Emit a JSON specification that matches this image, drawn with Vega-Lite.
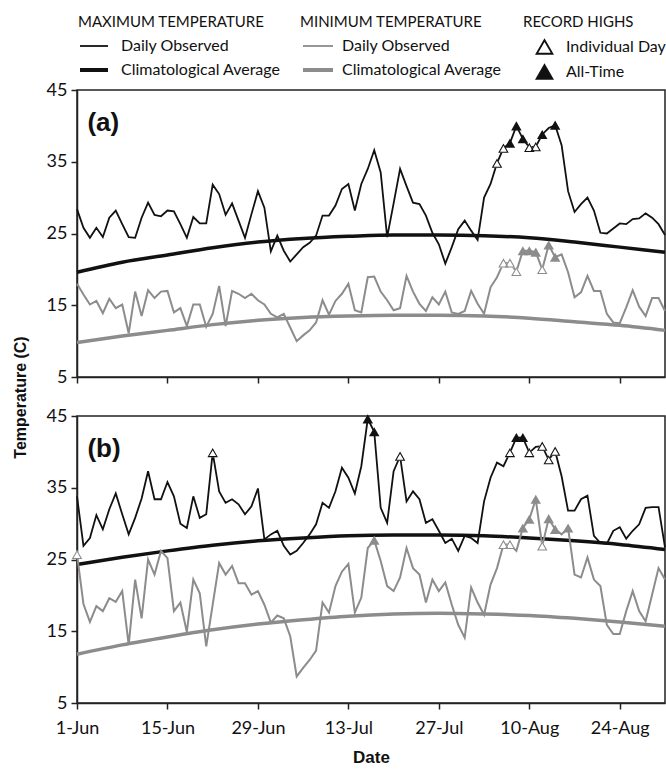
{
  "$schema": "https://vega.github.io/schema/vega-lite/v6.json",
  "background": "white",
  "padding": {"left": 11, "top": 15, "right": 0, "bottom": 5},
  "bounds": "flush",
  "spacing": 39,
  "config": {
    "view": {"stroke": "#222222", "strokeWidth": 1.5},
    "axis": {
      "grid": false,
      "labelFont": "Lato", "labelFontSize": 18, "labelColor": "#111111",
      "titleFont": "Liberation Sans", "titleFontWeight": "bold", "titleFontSize": 16, "titleColor": "#111111",
      "domainColor": "#222222", "domainWidth": 1.5,
      "tickColor": "#222222", "tickWidth": 1.5, "tickSize": 6, "labelPadding": 5
    },
    "legend": {
      "orient": "none", "direction": "vertical", "padding": 0,
      "labelFont": "Lato", "labelFontSize": 16, "labelColor": "#111111",
      "titleFont": "Lato", "titleFontSize": 15, "titleFontWeight": "normal", "titleColor": "#111111",
      "rowPadding": 8, "titlePadding": 8, "labelLimit": 300, "titleLimit": 400
    }
  },
  "datasets": {
    "obsA": [
      {"date":"2011-06-01","maxObs":28.4,"minObs":18.0},{"date":"2011-06-02","maxObs":25.8,"minObs":16.5},{"date":"2011-06-03","maxObs":24.4,"minObs":15.1},{"date":"2011-06-04","maxObs":25.8,"minObs":15.6},{"date":"2011-06-05","maxObs":24.5,"minObs":13.9},{"date":"2011-06-06","maxObs":27.2,"minObs":15.9},{"date":"2011-06-07","maxObs":28.2,"minObs":14.6},{"date":"2011-06-08","maxObs":26.3,"minObs":15.1},{"date":"2011-06-09","maxObs":24.5,"minObs":11.1},{"date":"2011-06-10","maxObs":24.4,"minObs":16.9},
      {"date":"2011-06-11","maxObs":27.2,"minObs":13.5},{"date":"2011-06-12","maxObs":29.3,"minObs":17.1},{"date":"2011-06-13","maxObs":27.6,"minObs":16.0},{"date":"2011-06-14","maxObs":27.4,"minObs":16.9},{"date":"2011-06-15","maxObs":28.2,"minObs":17.0},{"date":"2011-06-16","maxObs":28.1,"minObs":14.0},{"date":"2011-06-17","maxObs":26.3,"minObs":14.6},{"date":"2011-06-18","maxObs":24.4,"minObs":12.1},{"date":"2011-06-19","maxObs":27.3,"minObs":15.1},{"date":"2011-06-20","maxObs":26.4,"minObs":15.1},
      {"date":"2011-06-21","maxObs":26.4,"minObs":12.0},{"date":"2011-06-22","maxObs":31.8,"minObs":13.8},{"date":"2011-06-23","maxObs":30.5,"minObs":17.7},{"date":"2011-06-24","maxObs":27.6,"minObs":12.1},{"date":"2011-06-25","maxObs":29.2,"minObs":17.0},{"date":"2011-06-26","maxObs":26.8,"minObs":16.6},{"date":"2011-06-27","maxObs":24.4,"minObs":16.0},{"date":"2011-06-28","maxObs":27.7,"minObs":16.6},{"date":"2011-06-29","maxObs":30.9,"minObs":15.7},{"date":"2011-06-30","maxObs":28.6,"minObs":15.1},
      {"date":"2011-07-01","maxObs":22.5,"minObs":13.8},{"date":"2011-07-02","maxObs":24.7,"minObs":13.3},{"date":"2011-07-03","maxObs":22.6,"minObs":13.8},{"date":"2011-07-04","maxObs":21.1,"minObs":11.9},{"date":"2011-07-05","maxObs":22.1,"minObs":10.0},{"date":"2011-07-06","maxObs":23.1,"minObs":10.8},{"date":"2011-07-07","maxObs":23.7,"minObs":11.5},{"date":"2011-07-08","maxObs":24.7,"minObs":12.6},{"date":"2011-07-09","maxObs":27.5,"minObs":15.7},{"date":"2011-07-10","maxObs":27.5,"minObs":13.7},
      {"date":"2011-07-11","maxObs":28.9,"minObs":15.6},{"date":"2011-07-12","maxObs":31.2,"minObs":16.6},{"date":"2011-07-13","maxObs":31.9,"minObs":18.0},{"date":"2011-07-14","maxObs":28.2,"minObs":14.3},{"date":"2011-07-15","maxObs":31.9,"minObs":14.0},{"date":"2011-07-16","maxObs":34.0,"minObs":18.9},{"date":"2011-07-17","maxObs":36.6,"minObs":19.0},{"date":"2011-07-18","maxObs":33.5,"minObs":16.9},{"date":"2011-07-19","maxObs":24.5,"minObs":15.7},{"date":"2011-07-20","maxObs":29.2,"minObs":14.3},
      {"date":"2011-07-21","maxObs":34.0,"minObs":14.6},{"date":"2011-07-22","maxObs":31.6,"minObs":19.1},{"date":"2011-07-23","maxObs":29.3,"minObs":16.9},{"date":"2011-07-24","maxObs":29.1,"minObs":15.2},{"date":"2011-07-25","maxObs":27.5,"minObs":14.2},{"date":"2011-07-26","maxObs":25.1,"minObs":16.1},{"date":"2011-07-27","maxObs":23.5,"minObs":15.1},{"date":"2011-07-28","maxObs":20.8,"minObs":16.9},{"date":"2011-07-29","maxObs":23.1,"minObs":14.0},{"date":"2011-07-30","maxObs":25.6,"minObs":13.8},
      {"date":"2011-07-31","maxObs":26.8,"minObs":14.2},{"date":"2011-08-01","maxObs":25.4,"minObs":17.0},{"date":"2011-08-02","maxObs":24.1,"minObs":15.2},{"date":"2011-08-03","maxObs":30.0,"minObs":13.8},{"date":"2011-08-04","maxObs":31.9,"minObs":17.5},{"date":"2011-08-05","maxObs":34.8,"minObs":18.9},{"date":"2011-08-06","maxObs":36.9,"minObs":20.9},{"date":"2011-08-07","maxObs":37.6,"minObs":20.9},{"date":"2011-08-08","maxObs":40.0,"minObs":19.7},{"date":"2011-08-09","maxObs":38.2,"minObs":22.6},
      {"date":"2011-08-10","maxObs":37.0,"minObs":22.6},{"date":"2011-08-11","maxObs":37.1,"minObs":22.4},{"date":"2011-08-12","maxObs":38.8,"minObs":20.0},{"date":"2011-08-13","maxObs":39.7,"minObs":23.4},{"date":"2011-08-14","maxObs":40.1,"minObs":21.7},{"date":"2011-08-15","maxObs":37.3,"minObs":22.1},{"date":"2011-08-16","maxObs":30.9,"minObs":19.6},{"date":"2011-08-17","maxObs":28.0,"minObs":16.1},{"date":"2011-08-18","maxObs":29.1,"minObs":16.8},{"date":"2011-08-19","maxObs":30.0,"minObs":19.1},
      {"date":"2011-08-20","maxObs":28.2,"minObs":17.0},{"date":"2011-08-21","maxObs":25.1,"minObs":17.0},{"date":"2011-08-22","maxObs":25.0,"minObs":13.8},{"date":"2011-08-23","maxObs":25.7,"minObs":12.6},{"date":"2011-08-24","maxObs":26.4,"minObs":12.5},{"date":"2011-08-25","maxObs":26.3,"minObs":14.7},{"date":"2011-08-26","maxObs":27.0,"minObs":17.1},{"date":"2011-08-27","maxObs":27.1,"minObs":14.8},{"date":"2011-08-28","maxObs":27.8,"minObs":13.5},{"date":"2011-08-29","maxObs":27.2,"minObs":16.0},
      {"date":"2011-08-30","maxObs":26.3,"minObs":16.0},{"date":"2011-08-31","maxObs":24.8,"minObs":14.2}
    ],
    "obsB": [
      {"date":"2011-06-01","maxObs":33.8,"minObs":25.7},{"date":"2011-06-02","maxObs":26.9,"minObs":18.8},{"date":"2011-06-03","maxObs":28.0,"minObs":16.3},{"date":"2011-06-04","maxObs":31.2,"minObs":18.5},{"date":"2011-06-05","maxObs":29.2,"minObs":17.8},{"date":"2011-06-06","maxObs":32.0,"minObs":19.6},{"date":"2011-06-07","maxObs":34.2,"minObs":19.1},{"date":"2011-06-08","maxObs":31.3,"minObs":20.6},{"date":"2011-06-09","maxObs":28.5,"minObs":13.1},{"date":"2011-06-10","maxObs":30.8,"minObs":22.2},
      {"date":"2011-06-11","maxObs":33.5,"minObs":16.8},{"date":"2011-06-12","maxObs":37.3,"minObs":25.0},{"date":"2011-06-13","maxObs":33.4,"minObs":22.9},{"date":"2011-06-14","maxObs":33.4,"minObs":26.2},{"date":"2011-06-15","maxObs":35.8,"minObs":25.2},{"date":"2011-06-16","maxObs":33.8,"minObs":17.8},{"date":"2011-06-17","maxObs":30.0,"minObs":19.0},{"date":"2011-06-18","maxObs":29.4,"minObs":14.9},{"date":"2011-06-19","maxObs":33.8,"minObs":22.2},{"date":"2011-06-20","maxObs":30.8,"minObs":20.3},
      {"date":"2011-06-21","maxObs":31.3,"minObs":12.9},{"date":"2011-06-22","maxObs":39.9,"minObs":18.7},{"date":"2011-06-23","maxObs":34.5,"minObs":24.5},{"date":"2011-06-24","maxObs":32.9,"minObs":22.9},{"date":"2011-06-25","maxObs":33.4,"minObs":24.1},{"date":"2011-06-26","maxObs":32.7,"minObs":21.7},{"date":"2011-06-27","maxObs":31.3,"minObs":21.7},{"date":"2011-06-28","maxObs":32.4,"minObs":20.1},{"date":"2011-06-29","maxObs":34.9,"minObs":20.6},{"date":"2011-06-30","maxObs":27.8,"minObs":18.7},
      {"date":"2011-07-01","maxObs":28.5,"minObs":16.2},{"date":"2011-07-02","maxObs":29.0,"minObs":17.2},{"date":"2011-07-03","maxObs":26.9,"minObs":16.8},{"date":"2011-07-04","maxObs":25.7,"minObs":14.3},{"date":"2011-07-05","maxObs":26.2,"minObs":8.7},{"date":"2011-07-06","maxObs":27.3,"minObs":9.9},{"date":"2011-07-07","maxObs":28.5,"minObs":11.0},{"date":"2011-07-08","maxObs":29.9,"minObs":12.3},{"date":"2011-07-09","maxObs":32.9,"minObs":19.0},{"date":"2011-07-10","maxObs":32.2,"minObs":17.6},
      {"date":"2011-07-11","maxObs":34.5,"minObs":21.3},{"date":"2011-07-12","maxObs":37.8,"minObs":23.3},{"date":"2011-07-13","maxObs":36.4,"minObs":24.4},{"date":"2011-07-14","maxObs":34.2,"minObs":17.6},{"date":"2011-07-15","maxObs":38.0,"minObs":19.7},{"date":"2011-07-16","maxObs":44.6,"minObs":26.6},{"date":"2011-07-17","maxObs":42.8,"minObs":27.7},{"date":"2011-07-18","maxObs":32.2,"minObs":24.8},{"date":"2011-07-19","maxObs":30.1,"minObs":21.3},{"date":"2011-07-20","maxObs":37.3,"minObs":20.6},
      {"date":"2011-07-21","maxObs":39.4,"minObs":22.5},{"date":"2011-07-22","maxObs":33.1,"minObs":26.6},{"date":"2011-07-23","maxObs":34.5,"minObs":23.8},{"date":"2011-07-24","maxObs":33.4,"minObs":22.9},{"date":"2011-07-25","maxObs":30.1,"minObs":19.0},{"date":"2011-07-26","maxObs":30.6,"minObs":22.2},{"date":"2011-07-27","maxObs":29.0,"minObs":20.6},{"date":"2011-07-28","maxObs":27.3,"minObs":21.8},{"date":"2011-07-29","maxObs":27.9,"minObs":18.7},{"date":"2011-07-30","maxObs":26.2,"minObs":15.9},
      {"date":"2011-07-31","maxObs":28.3,"minObs":14.1},{"date":"2011-08-01","maxObs":28.0,"minObs":21.1},{"date":"2011-08-02","maxObs":27.3,"minObs":19.0},{"date":"2011-08-03","maxObs":33.1,"minObs":17.3},{"date":"2011-08-04","maxObs":36.4,"minObs":21.5},{"date":"2011-08-05","maxObs":38.5,"minObs":23.8},{"date":"2011-08-06","maxObs":38.0,"minObs":27.1},{"date":"2011-08-07","maxObs":39.9,"minObs":27.1},{"date":"2011-08-08","maxObs":42.0,"minObs":26.2},{"date":"2011-08-09","maxObs":42.0,"minObs":29.4},
      {"date":"2011-08-10","maxObs":39.9,"minObs":30.6},{"date":"2011-08-11","maxObs":40.7,"minObs":33.4},{"date":"2011-08-12","maxObs":40.8,"minObs":26.9},{"date":"2011-08-13","maxObs":38.9,"minObs":30.7},{"date":"2011-08-14","maxObs":40.1,"minObs":29.2},{"date":"2011-08-15","maxObs":36.6,"minObs":28.5},{"date":"2011-08-16","maxObs":31.8,"minObs":29.4},{"date":"2011-08-17","maxObs":31.8,"minObs":22.9},{"date":"2011-08-18","maxObs":33.4,"minObs":22.5},{"date":"2011-08-19","maxObs":33.9,"minObs":25.3},
      {"date":"2011-08-20","maxObs":28.3,"minObs":22.2},{"date":"2011-08-21","maxObs":27.3,"minObs":21.3},{"date":"2011-08-22","maxObs":27.2,"minObs":15.9},{"date":"2011-08-23","maxObs":29.0,"minObs":14.6},{"date":"2011-08-24","maxObs":29.5,"minObs":14.6},{"date":"2011-08-25","maxObs":27.9,"minObs":17.8},{"date":"2011-08-26","maxObs":29.0,"minObs":20.6},{"date":"2011-08-27","maxObs":29.9,"minObs":17.8},{"date":"2011-08-28","maxObs":32.2,"minObs":16.4},{"date":"2011-08-29","maxObs":32.3,"minObs":20.1},
      {"date":"2011-08-30","maxObs":32.3,"minObs":23.8},{"date":"2011-08-31","maxObs":26.7,"minObs":22.2}
    ],
    "climA": [
      {"date":"2011-06-01","maxClim":19.6,"minClim":9.8},{"date":"2011-06-08","maxClim":21.0,"minClim":10.7},{"date":"2011-06-15","maxClim":22.0,"minClim":11.5},{"date":"2011-06-22","maxClim":23.0,"minClim":12.3},{"date":"2011-06-29","maxClim":23.8,"minClim":12.9},{"date":"2011-07-06","maxClim":24.3,"minClim":13.3},{"date":"2011-07-13","maxClim":24.6,"minClim":13.5},
      {"date":"2011-07-20","maxClim":24.8,"minClim":13.6},{"date":"2011-07-27","maxClim":24.8,"minClim":13.6},{"date":"2011-08-03","maxClim":24.7,"minClim":13.5},{"date":"2011-08-10","maxClim":24.4,"minClim":13.2},{"date":"2011-08-17","maxClim":23.8,"minClim":12.7},{"date":"2011-08-24","maxClim":23.1,"minClim":12.2},{"date":"2011-08-31","maxClim":22.4,"minClim":11.5}
    ],
    "climB": [
      {"date":"2011-06-01","maxClim":24.3,"minClim":11.8},{"date":"2011-06-08","maxClim":25.3,"minClim":13.1},{"date":"2011-06-15","maxClim":26.2,"minClim":14.2},{"date":"2011-06-22","maxClim":27.0,"minClim":15.2},{"date":"2011-06-29","maxClim":27.6,"minClim":16.0},{"date":"2011-07-06","maxClim":28.0,"minClim":16.6},{"date":"2011-07-13","maxClim":28.3,"minClim":17.1},
      {"date":"2011-07-20","maxClim":28.4,"minClim":17.4},{"date":"2011-07-27","maxClim":28.4,"minClim":17.5},{"date":"2011-08-03","maxClim":28.3,"minClim":17.4},{"date":"2011-08-10","maxClim":28.0,"minClim":17.2},{"date":"2011-08-17","maxClim":27.6,"minClim":16.8},{"date":"2011-08-24","maxClim":27.1,"minClim":16.3},{"date":"2011-08-31","maxClim":26.4,"minClim":15.7}
    ],
    "recA": [
      {"date":"2011-08-05","kind":"max","record":"Individual Day","temp":34.8},{"date":"2011-08-06","kind":"max","record":"Individual Day","temp":36.9},{"date":"2011-08-07","kind":"max","record":"All-Time","temp":37.6},{"date":"2011-08-08","kind":"max","record":"All-Time","temp":40.0},{"date":"2011-08-09","kind":"max","record":"All-Time","temp":38.2},{"date":"2011-08-10","kind":"max","record":"Individual Day","temp":37.0},{"date":"2011-08-11","kind":"max","record":"Individual Day","temp":37.1},{"date":"2011-08-12","kind":"max","record":"All-Time","temp":38.8},{"date":"2011-08-14","kind":"max","record":"All-Time","temp":40.1},
      {"date":"2011-08-06","kind":"min","record":"Individual Day","temp":20.9},{"date":"2011-08-07","kind":"min","record":"Individual Day","temp":20.9},{"date":"2011-08-08","kind":"min","record":"Individual Day","temp":19.7},{"date":"2011-08-09","kind":"min","record":"All-Time","temp":22.6},{"date":"2011-08-10","kind":"min","record":"All-Time","temp":22.6},{"date":"2011-08-11","kind":"min","record":"All-Time","temp":22.4},{"date":"2011-08-12","kind":"min","record":"Individual Day","temp":20.0},{"date":"2011-08-13","kind":"min","record":"All-Time","temp":23.4},{"date":"2011-08-14","kind":"min","record":"All-Time","temp":21.7}
    ],
    "recB": [
      {"date":"2011-06-22","kind":"max","record":"Individual Day","temp":39.9},{"date":"2011-07-16","kind":"max","record":"All-Time","temp":44.6},{"date":"2011-07-17","kind":"max","record":"All-Time","temp":42.8},{"date":"2011-07-21","kind":"max","record":"Individual Day","temp":39.4},{"date":"2011-08-07","kind":"max","record":"Individual Day","temp":39.9},{"date":"2011-08-08","kind":"max","record":"All-Time","temp":42.0},{"date":"2011-08-09","kind":"max","record":"All-Time","temp":42.0},{"date":"2011-08-10","kind":"max","record":"Individual Day","temp":39.9},{"date":"2011-08-12","kind":"max","record":"Individual Day","temp":40.8},{"date":"2011-08-13","kind":"max","record":"Individual Day","temp":38.9},{"date":"2011-08-14","kind":"max","record":"Individual Day","temp":40.1},
      {"date":"2011-06-01","kind":"min","record":"Individual Day","temp":25.7},{"date":"2011-07-17","kind":"min","record":"All-Time","temp":27.7},{"date":"2011-08-06","kind":"min","record":"Individual Day","temp":27.1},{"date":"2011-08-07","kind":"min","record":"Individual Day","temp":27.1},{"date":"2011-08-09","kind":"min","record":"All-Time","temp":29.4},{"date":"2011-08-10","kind":"min","record":"All-Time","temp":30.6},{"date":"2011-08-11","kind":"min","record":"All-Time","temp":33.4},{"date":"2011-08-12","kind":"min","record":"Individual Day","temp":26.9},{"date":"2011-08-13","kind":"min","record":"All-Time","temp":30.7},{"date":"2011-08-14","kind":"min","record":"All-Time","temp":29.2},{"date":"2011-08-16","kind":"min","record":"All-Time","temp":29.4}
    ]
  },
  "vconcat": [
    {
      "width": 588, "height": 287,
      "encoding": {
        "x": {"field": "date", "type": "temporal",
          "scale": {"type": "utc", "domain": [{"year":2011,"month":6,"date":1,"utc":true},{"year":2011,"month":8,"date":31,"utc":true}]},
          "axis": {"labels": false, "title": null, "values": [{"year":2011,"month":6,"date":1,"utc":true},{"year":2011,"month":6,"date":15,"utc":true},{"year":2011,"month":6,"date":29,"utc":true},{"year":2011,"month":7,"date":13,"utc":true},{"year":2011,"month":7,"date":27,"utc":true},{"year":2011,"month":8,"date":10,"utc":true},{"year":2011,"month":8,"date":24,"utc":true}]}},
        "y": {"field": "temp", "type": "quantitative",
          "scale": {"domain": [5, 45], "nice": false},
          "axis": {"values": [5, 15, 25, 35, 45], "title": "Temperature (C)", "titleX": -57, "titleY": 307, "titleAngle": -90, "titleBaseline": "middle", "titleAlign": "center", "labelPadding": 4}}
      },
      "layer": [
        {"data": {"name": "climA"}, "transform": [{"fold": ["maxClim", "minClim"], "as": ["series", "temp"]}, {"filter": "datum.series === 'maxClim'"}],
         "mark": {"type": "line", "interpolate": "monotone", "strokeWidth": 3.5},
         "encoding": {"color": {"datum": "Climatological Average", "type": "nominal",
            "scale": {"domain": ["Daily Observed", "Climatological Average"], "range": ["#111111", "#111111"]},
            "legend": {"title": "MAXIMUM TEMPERATURE", "legendX": 1, "legendY": -75, "symbolType": "M-2.8,0L2.8,0", "symbolSize": 100, "symbolOffset": 8, "labelOffset": 19, "symbolStrokeWidth": {"expr": "(datum.value === 'Climatological Average' ? 4 : 1.8)"}}}}},
        {"data": {"name": "climA"}, "transform": [{"fold": ["maxClim", "minClim"], "as": ["series", "temp"]}, {"filter": "datum.series === 'minClim'"}],
         "mark": {"type": "line", "interpolate": "monotone", "strokeWidth": 3.5},
         "encoding": {"stroke": {"datum": "Climatological Average ", "type": "nominal",
            "scale": {"domain": ["Daily Observed ", "Climatological Average "], "range": ["#8c8c8c", "#8c8c8c"]},
            "legend": {"title": "MINIMUM TEMPERATURE", "legendX": 223, "legendY": -75, "symbolType": "M-3,0L3,0", "symbolSize": 100, "symbolOffset": 10, "labelOffset": 16, "symbolStrokeWidth": {"expr": "(datum.value === 'Climatological Average ' ? 4 : 1.8)"}}}}},
        {"data": {"name": "obsA"}, "transform": [{"fold": ["maxObs", "minObs"], "as": ["series", "temp"]}, {"filter": "datum.series === 'maxObs'"}],
         "mark": {"type": "line", "strokeWidth": 1.8},
         "encoding": {"color": {"datum": "Daily Observed", "type": "nominal"}}},
        {"data": {"name": "obsA"}, "transform": [{"fold": ["maxObs", "minObs"], "as": ["series", "temp"]}, {"filter": "datum.series === 'minObs'"}],
         "mark": {"type": "line", "strokeWidth": 2},
         "encoding": {"stroke": {"datum": "Daily Observed ", "type": "nominal"}}},
        {"data": {"name": "recA"}, "transform": [{"filter": "datum.record === 'Individual Day'"}],
         "mark": {"type": "point", "shape": "triangle-up", "filled": true, "fill": "white", "strokeWidth": 0, "opacity": 1},
         "encoding": {"size": {"value": 110}}},
        {"data": {"name": "recA"}, "transform": [{"filter": "datum.kind === 'max'"}],
         "mark": {"type": "point", "filled": true, "fill": "#111111", "strokeWidth": 0, "opacity": 1},
         "encoding": {
           "size": {"value": 110},
           "shape": {"field": "record", "type": "nominal",
             "scale": {"domain": ["Individual Day", "All-Time"], "range": ["M0,-0.87L1,0.87L-1,0.87Z M0,-0.469L-0.654,0.67L0.654,0.67Z", "triangle-up"]},
             "legend": {"title": "RECORD HIGHS", "legendX": 446, "legendY": -75, "symbolSize": 360, "symbolOffset": 12, "labelOffset": 12, "rowPadding": 7, "titlePadding": 7, "symbolStrokeWidth": 0, "symbolFillColor": "#111111"}}
         }},
        {"data": {"name": "recA"}, "transform": [{"filter": "datum.kind === 'min'"}],
         "mark": {"type": "point", "filled": true, "fill": "#8c8c8c", "strokeWidth": 0, "opacity": 1},
         "encoding": {
           "size": {"value": 110},
           "shape": {"field": "record", "type": "nominal"}
         }},
        {"data": {"values": [{"date": "2011-06-02", "temp": 40.4, "label": "(a)"}]},
         "mark": {"type": "text", "align": "left", "baseline": "middle", "dx": 4, "font": "Liberation Sans", "fontWeight": "bold", "fontSize": 26, "color": "#111111"},
         "encoding": {"text": {"field": "label"}}}
      ]
    },
    {
      "width": 588, "height": 287,
      "encoding": {
        "x": {"field": "date", "type": "temporal",
          "scale": {"type": "utc", "domain": [{"year":2011,"month":6,"date":1,"utc":true},{"year":2011,"month":8,"date":31,"utc":true}]},
          "axis": {"title": "Date", "labelExpr": "utcFormat(datum.value, '%-d-%b')", "labelFlush": false, "labelPadding": 10, "titlePadding": 12, "titleFontSize": 17, "values": [{"year":2011,"month":6,"date":1,"utc":true},{"year":2011,"month":6,"date":15,"utc":true},{"year":2011,"month":6,"date":29,"utc":true},{"year":2011,"month":7,"date":13,"utc":true},{"year":2011,"month":7,"date":27,"utc":true},{"year":2011,"month":8,"date":10,"utc":true},{"year":2011,"month":8,"date":24,"utc":true}]}},
        "y": {"field": "temp", "type": "quantitative",
          "scale": {"domain": [5, 45], "nice": false},
          "axis": {"values": [5, 15, 25, 35, 45], "title": null, "labelPadding": 4}}
      },
      "layer": [
        {"data": {"name": "climB"}, "transform": [{"fold": ["maxClim", "minClim"], "as": ["series", "temp"]}, {"filter": "datum.series === 'maxClim'"}],
         "mark": {"type": "line", "interpolate": "monotone", "strokeWidth": 3.5},
         "encoding": {"color": {"datum": "Climatological Average", "type": "nominal"}}},
        {"data": {"name": "climB"}, "transform": [{"fold": ["maxClim", "minClim"], "as": ["series", "temp"]}, {"filter": "datum.series === 'minClim'"}],
         "mark": {"type": "line", "interpolate": "monotone", "strokeWidth": 3.5},
         "encoding": {"stroke": {"datum": "Climatological Average ", "type": "nominal"}}},
        {"data": {"name": "obsB"}, "transform": [{"fold": ["maxObs", "minObs"], "as": ["series", "temp"]}, {"filter": "datum.series === 'maxObs'"}],
         "mark": {"type": "line", "strokeWidth": 1.8},
         "encoding": {"color": {"datum": "Daily Observed", "type": "nominal"}}},
        {"data": {"name": "obsB"}, "transform": [{"fold": ["maxObs", "minObs"], "as": ["series", "temp"]}, {"filter": "datum.series === 'minObs'"}],
         "mark": {"type": "line", "strokeWidth": 2},
         "encoding": {"stroke": {"datum": "Daily Observed ", "type": "nominal"}}},
        {"data": {"name": "recB"}, "transform": [{"filter": "datum.record === 'Individual Day'"}],
         "mark": {"type": "point", "shape": "triangle-up", "filled": true, "fill": "white", "strokeWidth": 0, "opacity": 1},
         "encoding": {"size": {"value": 110}}},
        {"data": {"name": "recB"}, "transform": [{"filter": "datum.kind === 'max'"}],
         "mark": {"type": "point", "filled": true, "fill": "#111111", "strokeWidth": 0, "opacity": 1},
         "encoding": {
           "size": {"value": 110},
           "shape": {"field": "record", "type": "nominal"}
         }},
        {"data": {"name": "recB"}, "transform": [{"filter": "datum.kind === 'min'"}],
         "mark": {"type": "point", "filled": true, "fill": "#8c8c8c", "strokeWidth": 0, "opacity": 1},
         "encoding": {
           "size": {"value": 110},
           "shape": {"field": "record", "type": "nominal"}
         }},
        {"data": {"values": [{"date": "2011-06-02", "temp": 40.4, "label": "(b)"}]},
         "mark": {"type": "text", "align": "left", "baseline": "middle", "dx": 4, "font": "Liberation Sans", "fontWeight": "bold", "fontSize": 26, "color": "#111111"},
         "encoding": {"text": {"field": "label"}}}
      ]
    }
  ]
}
